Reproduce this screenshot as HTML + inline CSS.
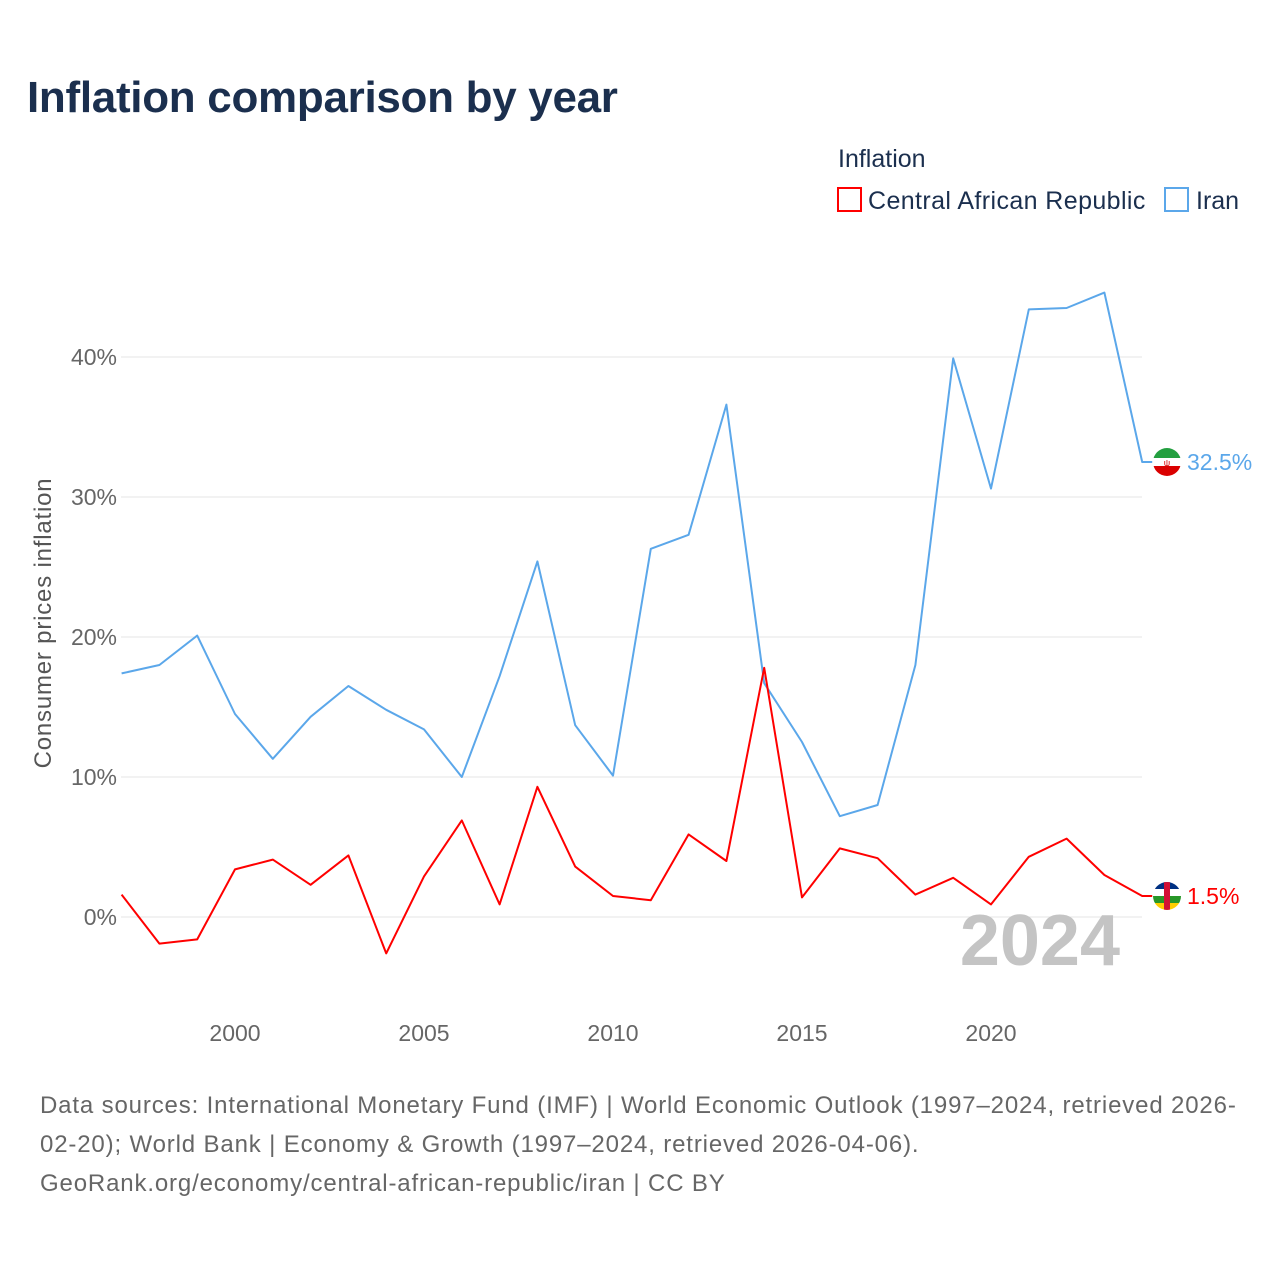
<!DOCTYPE html>
<html><head><meta charset="utf-8"><style>
body{margin:0;background:#fff;font-family:"Liberation Sans",sans-serif;}
svg text{font-family:"Liberation Sans",sans-serif;}
</style></head><body>
<svg id="chart" width="1280" height="1280" xmlns="http://www.w3.org/2000/svg">
<defs>
<clipPath id="clipIran"><circle cx="1167" cy="462" r="14"/></clipPath>
<clipPath id="clipCar"><circle cx="1167" cy="896" r="14"/></clipPath>
</defs>
<rect width="1280" height="1280" fill="#fff"/>
<text x="27" y="112" font-size="44" font-weight="bold" fill="#1b2f4e" letter-spacing="-0.3">Inflation comparison by year</text>
<text x="838" y="167" font-size="25" fill="#1b2f4e">Inflation</text>
<g><rect x="838" y="188" width="23" height="23" fill="none" stroke="#ff0000" stroke-width="2"/><text x="868" y="209" font-size="25" fill="#1b2f4e" letter-spacing="0.4">Central African Republic</text></g>
<g><rect x="1165" y="188" width="23" height="23" fill="none" stroke="#5ba7ea" stroke-width="2"/><text x="1196" y="209" font-size="25" fill="#1b2f4e">Iran</text></g>
<text transform="translate(51,623) rotate(-90)" text-anchor="middle" font-size="24" fill="#555" letter-spacing="0.8">Consumer prices inflation</text>
<g id="grid"></g><g id="ticks"></g>
<text x="1120" y="965" text-anchor="end" font-size="72" font-weight="bold" fill="#c4c4c4">2024</text>
<g id="lines"></g>
<text font-size="24" fill="#666" letter-spacing="0.85"><tspan x="40" y="1113">Data sources: International Monetary Fund (IMF) | World Economic Outlook (1997–2024, retrieved 2026-</tspan><tspan x="40" y="1152">02-20); World Bank | Economy &amp; Growth (1997–2024, retrieved 2026-04-06).</tspan><tspan x="40" y="1191">GeoRank.org/economy/central-african-republic/iran | CC BY</tspan></text>
</svg>
<script>
const years=[1997,1998,1999,2000,2001,2002,2003,2004,2005,2006,2007,2008,2009,2010,2011,2012,2013,2014,2015,2016,2017,2018,2019,2020,2021,2022,2023,2024];
const iranValues=[17.4,18.0,20.1,14.5,11.3,14.3,16.5,14.8,13.4,10.0,17.2,25.4,13.7,10.1,26.3,27.3,36.6,16.7,12.5,7.2,8.0,18.0,39.9,30.6,43.4,43.5,44.6,32.5];
const carValues=[1.6,-1.9,-1.6,3.4,4.1,2.3,4.4,-2.6,2.9,6.9,0.9,9.3,3.6,1.5,1.2,5.9,4.0,17.8,1.4,4.9,4.2,1.6,2.8,0.9,4.3,5.6,3.0,1.5];
const yTicks=[0,10,20,30,40];
const xTicks=[2000,2005,2010,2015,2020];
const NS="http://www.w3.org/2000/svg";
const x=v=>121.6+(v-1997)*37.8;
const y=v=>917-v*14;
function mk(t,a,p){const e=document.createElementNS(NS,t);for(const k in a)e.setAttribute(k,a[k]);p.appendChild(e);return e;}
const grid=document.getElementById('grid'),ticks=document.getElementById('ticks'),lines=document.getElementById('lines');
yTicks.forEach(t=>{
 const l=mk('line',{x1:121,x2:1142,y1:y(t),y2:y(t),stroke:'#e6e6e6','stroke-width':1},grid);
 
 
 const tx=mk('text',{x:117,y:y(t)+8,'text-anchor':'end','font-size':23,fill:'#666'},ticks);
 tx.textContent=t+'%';
 
 
});
xTicks.forEach(t=>{
 const tx=mk('text',{x:x(t),y:1041,'text-anchor':'middle','font-size':23,fill:'#666'},ticks);
 tx.textContent=t;
 
 
});
function series(vals,color,name){
 let d=vals.map((v,i)=>(i?'L':'M')+x(years[i]).toFixed(1)+','+y(v).toFixed(1)).join(' ');
 const last=vals[vals.length-1];
 d+=' L'+(x(years[years.length-1])+10)+','+y(last);
 const p=mk('path',{d:d,fill:'none',stroke:color,'stroke-width':2,'stroke-linejoin':'round'},lines);
 
 
 const t=mk('text',{x:1187,y:y(last)+8,'font-size':23,fill:color},lines);
 t.textContent=last+'%';
 
 
 const g=mk('g',{},lines);
 
 
 return [g,y(last)];
}
const [gi,iy]=series(iranValues,'#5ba7ea','iran');
document.querySelector('#clipIran circle').setAttribute('cy',iy);
gi.setAttribute('clip-path','url(#clipIran)');
mk('rect',{x:1153,y:iy-14,width:28,height:10,fill:'#239f40'},gi);
mk('rect',{x:1153,y:iy-4,width:28,height:8,fill:'#fff'},gi);
mk('rect',{x:1153,y:iy+4,width:28,height:10,fill:'#da0000'},gi);
mk('text',{x:1167,y:iy+4,'text-anchor':'middle','font-size':9,fill:'#da0000'},gi).textContent='ψ';
const [gc,cy]=series(carValues,'#ff0000','car');
document.querySelector('#clipCar circle').setAttribute('cy',cy);
gc.setAttribute('clip-path','url(#clipCar)');
mk('rect',{x:1153,y:cy-14,width:28,height:7,fill:'#003082'},gc);
mk('rect',{x:1153,y:cy-7,width:28,height:7,fill:'#fff'},gc);
mk('rect',{x:1153,y:cy,width:28,height:7,fill:'#289728'},gc);
mk('rect',{x:1153,y:cy+7,width:28,height:7,fill:'#ffce00'},gc);
mk('rect',{x:1164,y:cy-14,width:6,height:28,fill:'#d21034'},gc);
</script>
</body></html>
